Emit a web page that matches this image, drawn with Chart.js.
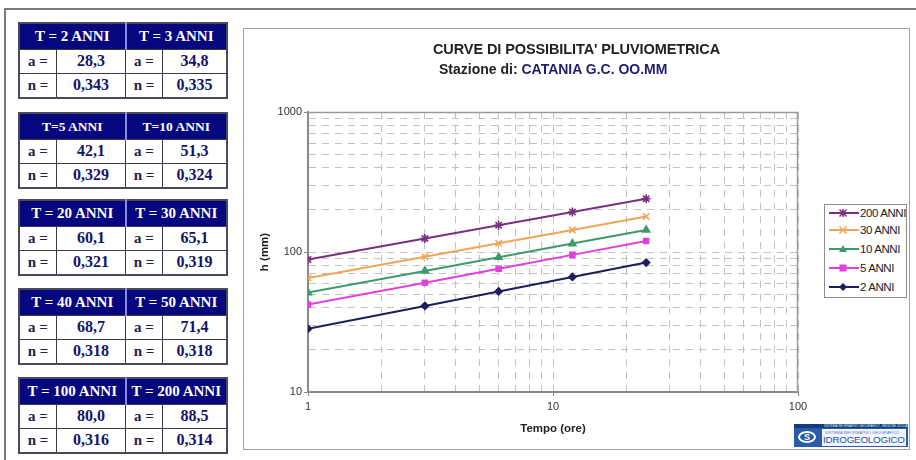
<!DOCTYPE html>
<html>
<head>
<meta charset="utf-8">
<script src="https://cdn.jsdelivr.net/npm/chart.js@4"></script>
<style>
  html,body{margin:0;padding:0;background:#fff;width:916px;height:460px;overflow:hidden;position:relative;font-family:"Liberation Sans",Arial,sans-serif;}
  #outer{position:absolute;left:4px;top:8px;width:1000px;height:1000px;border:2px solid #7a7a7a;}
  table.t{position:absolute;left:18px;width:210px;height:77px;border-collapse:collapse;font-family:"Liberation Serif","Times New Roman",serif;font-weight:bold;border:2px solid #4a4a5a;}
  table.t td{border:1px solid #3a3a4a;text-align:center;padding:0;}
  table.t tr.h td{background:#06067e;color:#fff;font-size:15px;height:25px;border-top-color:#06067e;border-bottom-color:#3a3a4a;}
  table.t tr.h td.first{border-right:2px solid #8a8ae0;}
  table.t td.lab{color:#22224a;font-size:15px;width:36px;}
  table.t td.val{color:#141466;font-size:16px;}
  #frame{position:absolute;left:243px;top:28px;width:667px;height:422px;box-sizing:border-box;border:1px solid #a0a0a0;}
  #frame canvas{position:absolute;left:0;top:0;}
  #t1{position:absolute;left:433px;top:41px;font-size:14.5px;font-weight:bold;color:#222;white-space:nowrap;letter-spacing:-0.1px;}
  #t2{position:absolute;left:439px;top:61px;font-size:14px;font-weight:bold;color:#222;white-space:nowrap;}
  #t2 span{color:#1e1e6e;}
  #legend{position:absolute;left:824px;top:204px;width:83px;height:94px;box-sizing:border-box;border:1px solid #8c8c8c;background:#fff;}
  .li{position:absolute;left:2px;height:14px;font-size:11.5px;color:#222;white-space:nowrap;}
  .li svg{position:absolute;left:0;top:0;}
  .li span{position:absolute;left:33px;top:0;line-height:14px;letter-spacing:-0.4px;}
  #logo{position:absolute;left:794px;top:424px;width:114px;height:23px;background:#2b5aa6;overflow:hidden;}
  #logo .strip{position:absolute;left:0;top:0;width:114px;height:4px;background:#173a84;color:#cfe;font-size:3px;line-height:4px;padding-left:30px;box-sizing:border-box;white-space:nowrap;}
  #logo .icon{position:absolute;left:4px;top:7px;width:18px;height:12px;border:2px solid #fff;border-radius:50%;box-sizing:border-box;color:#fff;font-size:9px;line-height:8px;text-align:center;font-weight:bold;}
  #logo .panel{position:absolute;left:28px;top:5px;width:84px;height:17px;background:#f2f5fb;}
  #logo .small{position:absolute;left:3px;top:1px;font-size:4px;color:#5a7cc0;white-space:nowrap;}
  #logo .big{position:absolute;left:1px;top:5px;font-size:9.8px;color:#2754a4;white-space:nowrap;letter-spacing:-0.2px;line-height:11px;}
</style>
</head>
<body>
<div id="outer"></div>
<div id="tables"></div>
<div id="frame"><canvas id="c" width="665" height="420"></canvas></div>
<div id="t1">CURVE DI POSSIBILITA' PLUVIOMETRICA</div>
<div id="t2">Stazione di: <span>CATANIA G.C. OO.MM</span></div>
<div id="legend"></div>
<div id="logo">
  <div class="strip">SISTEMA INFORMATIVO GEOGRAFICO - REGIONE SICILIANA</div>
  <div class="icon">S</div>
  <div class="panel"><div class="small">SISTEMA INFORMATIVO GEOGRAFICO</div><div class="big">IDROGEOLOGICO</div></div>
</div>
<script>
// ---- table data ----
const periodLabels = ['T = 2 ANNI','T = 3 ANNI','T=5 ANNI','T=10 ANNI','T = 20 ANNI','T = 30 ANNI','T = 40 ANNI','T = 50 ANNI','T = 100 ANNI','T = 200 ANNI'];
const aValues = ['28,3','34,8','42,1','51,3','60,1','65,1','68,7','71,4','80,0','88,5'];
const nValues = ['0,343','0,335','0,329','0,324','0,321','0,319','0,318','0,318','0,316','0,314'];

// ---- chart data ----
const durations = [1, 3, 6, 12, 24];
const h200 = [88.5, 125.0, 155.3, 193.1, 240.1];
const h30  = [65.1, 92.4, 115.3, 143.8, 179.4];
const h10  = [51.3, 73.2, 91.7, 114.8, 143.6];
const h5   = [42.1, 60.4, 75.9, 95.4, 119.8];
const h2   = [28.3, 41.2, 52.3, 66.3, 84.1];
const seriesNames = ['200 ANNI','30 ANNI','10 ANNI','5 ANNI','2 ANNI'];

const xGrid = [1,2,3,4,5,6,7,8,9,10,20,30,40,50,60,70,80,90,100];
const yGrid = [10,20,30,40,50,60,70,80,90,100,200,300,400,500,600,700,800,900,1000];
const xTickLabels = ['1','10','100'];
const yTickLabels = ['10','100','1000'];

// ---- build tables ----
const tableTops = [22, 112, 199, 288, 377];
const tWrap = document.getElementById('tables');
for (let k = 0; k < 5; k++) {
  const i = 2*k, j = 2*k+1;
  const t = document.createElement('table');
  t.className = 't';
  t.style.top = tableTops[k] + 'px';
  const hs = (periodLabels[i].indexOf(' ') === 1) ? '' : ' style="font-size:13.5px"';
  t.innerHTML =
    '<tr class="h"><td colspan="2" class="first"'+hs+'>'+periodLabels[i]+'</td><td colspan="2"'+hs+'>'+periodLabels[j]+'</td></tr>'+
    '<tr><td class="lab">a =</td><td class="val" style="width:68px">'+aValues[i]+'</td><td class="lab" style="width:34px">a =</td><td class="val">'+aValues[j]+'</td></tr>'+
    '<tr><td class="lab">n =</td><td class="val">'+nValues[i]+'</td><td class="lab">n =</td><td class="val">'+nValues[j]+'</td></tr>';
  tWrap.appendChild(t);
}

// ---- styles ----
const colors = ['#7a2f80','#f0a556','#3d9a6c','#e040dc','#1c1c5e'];
const pStyles = ['star','crossRot','triangle','rect','rectRot'];
const pRadius = [4.5, 4.5, 4, 3.5, 3.5];
const allSeries = [h200, h30, h10, h5, h2];

const datasets = allSeries.map((s, k) => ({
  label: seriesNames[k],
  data: durations.map((d, idx) => ({x: d, y: s[idx]})),
  borderColor: colors[k],
  backgroundColor: colors[k],
  borderWidth: 2,
  pointStyle: pStyles[k],
  pointRadius: pRadius[k],
  pointBorderWidth: 1.6,
  pointBorderColor: colors[k],
  pointBackgroundColor: colors[k],
  tension: 0
}));

// ---- legend ----
const legendTops = [8, 25, 44, 63, 82];
const lg = document.getElementById('legend');
seriesNames.forEach((name, k) => {
  const d = document.createElement('div');
  d.className = 'li';
  d.style.top = (legendTops[k] - 7) + 'px';
  const c = colors[k];
  let m = '';
  const cx = 16, cy = 7;
  if (pStyles[k] === 'star') m = `<path d="M${cx-3.5} ${cy-3.5}L${cx+3.5} ${cy+3.5}M${cx+3.5} ${cy-3.5}L${cx-3.5} ${cy+3.5}M${cx} ${cy-4}L${cx} ${cy+4}M${cx-4} ${cy}L${cx+4} ${cy}" stroke="${c}" stroke-width="1.5"/>`;
  if (pStyles[k] === 'crossRot') m = `<path d="M${cx-3.5} ${cy-3.5}L${cx+3.5} ${cy+3.5}M${cx+3.5} ${cy-3.5}L${cx-3.5} ${cy+3.5}" stroke="${c}" stroke-width="1.6"/>`;
  if (pStyles[k] === 'triangle') m = `<path d="M${cx} ${cy-4}L${cx+4} ${cy+3}L${cx-4} ${cy+3}Z" fill="${c}"/>`;
  if (pStyles[k] === 'rect') m = `<rect x="${cx-3.5}" y="${cy-3.5}" width="7" height="7" fill="${c}"/>`;
  if (pStyles[k] === 'rectRot') m = `<path d="M${cx} ${cy-4}L${cx+4} ${cy}L${cx} ${cy+4}L${cx-4} ${cy}Z" fill="${c}"/>`;
  d.innerHTML = `<svg width="34" height="14"><line x1="2" y1="7" x2="32" y2="7" stroke="${c}" stroke-width="2"/>${m}</svg><span>${name}</span>`;
  lg.appendChild(d);
});

// ---- plot frame plugin ----
const framePlugin = {
  id: 'frameLines',
  beforeDatasetsDraw(chart) {
    const {ctx, chartArea: a} = chart;
    ctx.save();
    ctx.strokeStyle = '#9a9a9a';
    ctx.lineWidth = 1.5;
    ctx.beginPath();
    ctx.moveTo(a.left, a.top + 0.5);
    ctx.lineTo(a.right - 0.5, a.top + 0.5);
    ctx.lineTo(a.right - 0.5, a.bottom);
    ctx.stroke();
    ctx.restore();
  }
};

const isLabelled = (v, list) => list.indexOf(String(v)) >= 0;

new Chart(document.getElementById('c'), {
  type: 'line',
  data: { datasets },
  plugins: [framePlugin],
  options: {
    responsive: false,
    animation: false,
    layout: { padding: { left: 4, right: 111, top: 83, bottom: 9 } },
    plugins: { legend: { display: false }, tooltip: { enabled: false } },
    scales: {
      x: {
        type: 'logarithmic',
        min: 1, max: 100,
        afterBuildTicks: s => { s.ticks = xGrid.map(v => ({ value: v })); },
        afterFit: s => { s.height = 48; },
        grid: {
          color: '#c2c2c2', lineWidth: 1,
          tickLength: 4,
          tickColor: ctx => (ctx.tick && isLabelled(ctx.tick.value, xTickLabels)) ? '#888' : 'rgba(0,0,0,0)'
        },
        border: { color: '#8a8a8a', width: 2, dash: [7, 6] },
        ticks: {
          autoSkip: false, maxRotation: 0, padding: 4,
          color: '#333', font: { family: 'Liberation Sans', size: 11 },
          callback: v => isLabelled(v, xTickLabels) ? String(v) : ''
        },
        title: { display: true, text: 'Tempo (ore)', color: '#222', font: { family: 'Liberation Sans', size: 11.5, weight: 'bold' }, padding: { top: 0, bottom: 4 } }
      },
      y: {
        type: 'logarithmic',
        min: 10, max: 1000,
        afterBuildTicks: s => { s.ticks = yGrid.map(v => ({ value: v })); },
        afterFit: s => { s.width = 60; },
        grid: {
          color: '#c2c2c2', lineWidth: 1,
          tickLength: 4,
          tickColor: ctx => (ctx.tick && isLabelled(ctx.tick.value, yTickLabels)) ? '#888' : 'rgba(0,0,0,0)'
        },
        border: { color: '#8a8a8a', width: 2, dash: [7, 6] },
        ticks: {
          autoSkip: false, padding: 2,
          color: '#333', font: { family: 'Liberation Sans', size: 11 },
          callback: v => isLabelled(v, yTickLabels) ? String(v) : ''
        },
        title: { display: true, text: 'h (mm)', color: '#222', font: { family: 'Liberation Sans', size: 11.5, weight: 'bold' }, padding: { top: 10, bottom: 4 } }
      }
    }
  }
});
</script>
</body>
</html>
